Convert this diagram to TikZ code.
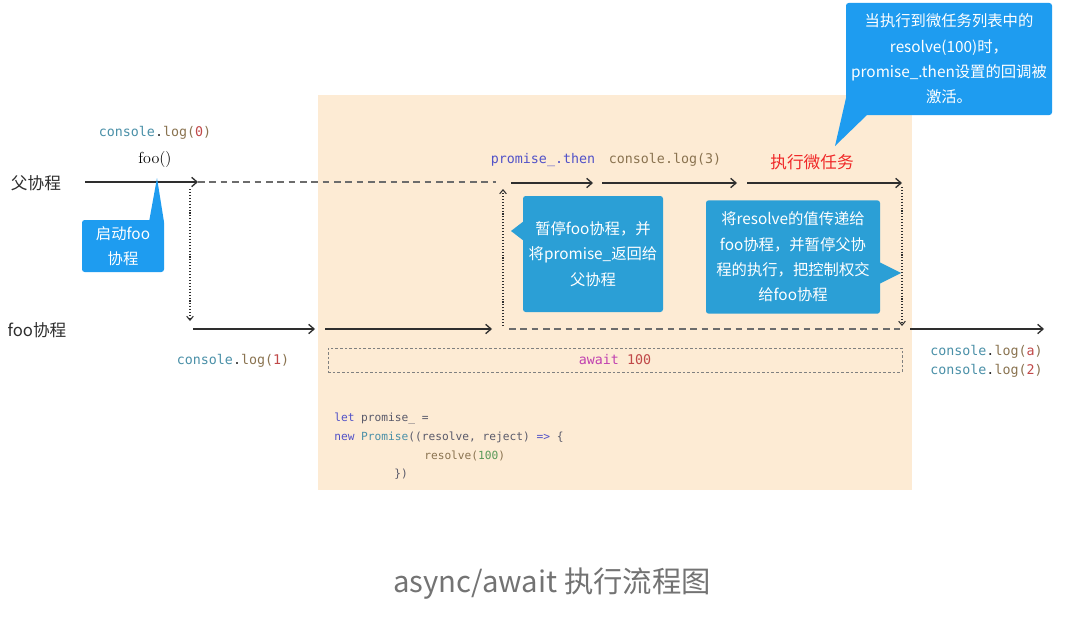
\documentclass[tikz,border=0pt]{standalone}
\usepackage{fontspec}
\setmonofont{DejaVu Sans Mono}
\newfontfamily\cjk{Noto Sans CJK SC}
\usetikzlibrary{positioning, arrows.meta}

\definecolor{peach}{HTML}{FDEBD4}
\definecolor{skyblue}{HTML}{1E9CF0}
\definecolor{boxblue}{HTML}{2B9FD6}
\definecolor{ink}{HTML}{2E2E2E}
\definecolor{codeteal}{HTML}{4A90A8}
\definecolor{codebrown}{HTML}{8A7350}
\definecolor{codered}{HTML}{C04848}
\definecolor{codepurple}{HTML}{5252C8}
\definecolor{codegreen}{HTML}{5A9A5A}
\definecolor{codegray}{HTML}{5A5A6A}
\definecolor{codemagenta}{HTML}{C040B0}
\definecolor{alarm}{HTML}{F02828}

\newcommand{\conslog}[1]{\textcolor{codeteal}{console}\textcolor{ink}{.}\textcolor{codebrown}{log(}\textcolor{codered}{#1}\textcolor{codebrown}{)}}

\begin{document}
\begin{tikzpicture}[x=0.75pt, y=-0.75pt,
    flow/.style={-{Straight Barb[length=4pt, width=7pt, line width=1pt]}, line width=1.1pt, draw=ink},
    pause/.style={dash pattern=on 5pt off 3.5pt, line width=1.1pt, draw=gray!85!black},
    hop/.style={-{Straight Barb[length=3pt, width=5pt, line width=0.8pt]}, dash pattern=on 0.8pt off 1.4pt,
        line width=0.9pt, draw=ink},
    lane/.style={font=\cjk\fontsize{12.5}{14}\selectfont, text=ink, inner sep=0pt},
    mono/.style={font=\ttfamily\fontsize{10}{12}\selectfont, inner sep=0pt},
    code/.style={font=\ttfamily\fontsize{8.4}{10}\selectfont, inner sep=0pt, anchor=base west},
    bubble/.style={fill=#1, text=white, rounded corners=2pt, align=center, inner sep=0pt,
        font=\cjk\fontsize{11.5}{19}\selectfont}]
    % Background
    \useasboundingbox (0,0) rectangle (1066,617);
    \fill[white] (0,0) rectangle (1066,617);
    \fill[peach] (318,95) rectangle (912,490);

    % Nodes
    \node[lane] (parent) at (36,183) {父协程};
    \node[lane] (child) at (37,330) {foo协程};
    \node[mono] (log0) at (155,133) {\conslog{0}};
    \node[font=\fontsize{12}{14}\selectfont, inner sep=0pt] (call) at (155,160) {foo()};
    \node[mono] (log1) at (233,361) {\conslog{1}};
    \node[mono, text=codepurple] (then) at (543,160) {promise\_.then};
    \node[mono, text=codebrown] (log3) at (665,160) {console.log(3)};
    \node[lane, text=alarm, font=\cjk\fontsize{12.5}{14}\selectfont] (micro) at (812,162) {执行微任务};
    \node[mono, anchor=west] (loga) at (930,352) {\conslog{a}};
    \node[mono, anchor=west] (log2) at (930,371) {\conslog{2}};
    \node[draw=gray, dash pattern=on 2pt off 1.5pt, line width=0.5pt, minimum width=430.5pt,
        minimum height=18pt, mono] (await) at (615,360)
        {\textcolor{codemagenta}{await} \textcolor{codered}{100}};

    % Code
    \node[code] (line1) at (334,421) {\textcolor{codepurple}{let} \textcolor{codegray}{promise\_ =}};
    \node[code] (line2) at (334,440) {\textcolor{codepurple}{new} \textcolor{codeteal}{Promise}\textcolor{codegray}{((resolve, reject)} \textcolor{codepurple}{=>} \textcolor{codegray}{\{}};
    \node[code] (line3) at (424,459) {\textcolor{codebrown}{resolve(}\textcolor{codegreen}{100}\textcolor{codebrown}{)}};
    \node[code] (line4) at (394,477) {\textcolor{codegray}{\})}};

    % Edges
    \coordinate (a0) at (85,182);
    \coordinate (a1) at (198,182);
    \coordinate (a2) at (496,182);
    \draw[flow] (a0) -- (a1);
    \draw[pause] (a1) -- (a2);

    \coordinate (d0) at (190,189);
    \coordinate (d1) at (190,321);
    \draw[hop] (d0) -- (d1);

    \coordinate (b0) at (193,329);
    \coordinate (b1) at (315,329);
    \coordinate (b2) at (325,329);
    \coordinate (b3) at (492,329);
    \draw[flow] (b0) -- (b1);
    \draw[flow] (b2) -- (b3);

    \coordinate (u0) at (503,326);
    \coordinate (u1) at (503,189);
    \draw[hop] (u0) -- (u1);

    \coordinate (t0) at (511,183);
    \coordinate (t1) at (593,183);
    \coordinate (t2) at (602,183);
    \coordinate (t3) at (737,183);
    \coordinate (t4) at (747,183);
    \coordinate (t5) at (902,183);
    \draw[flow] (t0) -- (t1);
    \draw[flow] (t2) -- (t3);
    \draw[flow] (t4) -- (t5);

    \coordinate (w0) at (509,329);
    \coordinate (w1) at (900,329);
    \draw[pause] (w0) -- (w1);

    \coordinate (r0) at (902,187);
    \coordinate (r1) at (902,326);
    \draw[hop] (r0) -- (r1);

    \coordinate (e0) at (910,329);
    \coordinate (e1) at (1044,329);
    \draw[flow] (e0) -- (e1);

    % Callouts
    \node[bubble=skyblue, minimum width=61.5pt, minimum height=39pt] (start) at (123,246)
        {启动foo\\协程};
    \fill[skyblue] (149,222) -- (157,178) -- (164,222) -- cycle;

    \node[bubble=boxblue, minimum width=105pt, minimum height=87pt] (yield) at (593,254)
        {暂停foo协程，并\\将promise\_返回给\\父协程};
    \fill[boxblue] (524,221) -- (511,231) -- (524,241) -- cycle;

    \node[bubble=boxblue, minimum width=130.5pt, minimum height=85pt] (resume) at (793,257)
        {将resolve的值传递给\\foo协程，并暂停父协\\程的执行，把控制权交\\给foo协程};
    \fill[boxblue] (879,262) -- (901,273) -- (879,284) -- cycle;

    \node[bubble=skyblue, minimum width=154.5pt, minimum height=84pt] (note) at (949,59)
        {当执行到微任务列表中的\\resolve(100)时，\\promise\_.then设置的回调被\\激活。};
    \fill[skyblue] (846,98) -- (835,146) -- (868,114) -- cycle;

    % Caption
    \node[font=\cjk\fontsize{22}{26}\selectfont, text=gray!90!black, inner sep=0pt] (caption)
        at (552,584) {async/await 执行流程图};
\end{tikzpicture}
\end{document}
